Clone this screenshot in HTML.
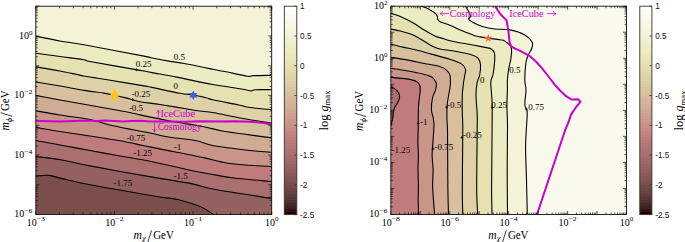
<!DOCTYPE html>
<html><head><meta charset="utf-8"><style>
html,body{margin:0;padding:0;background:#fff;width:685px;height:242px;overflow:hidden}
svg{display:block}
text{font-family:"Liberation Serif",serif;fill:#000}
.cb{font-family:"Liberation Sans",sans-serif;font-size:8.2px;fill:#111}
.tk{font-size:10px}
.sp{font-size:7px}
.cl{font-size:9px}
.mg text{fill:#cc00cc;font-size:9.65px}
</style></head><body>
<svg width="685" height="242" viewBox="0 0 685 242">
<defs>
<clipPath id="cl"><rect x="35.8" y="6.2" width="235.9" height="208.3"/></clipPath>
<clipPath id="cr"><rect x="390.8" y="6.2" width="235.7" height="208.3"/></clipPath>
<linearGradient id="cbg" x1="0" y1="0" x2="0" y2="1"><stop offset="0.00000" stop-color="#fefefc"/><stop offset="0.01429" stop-color="#fefefc"/><stop offset="0.01429" stop-color="#fdfdf8"/><stop offset="0.02857" stop-color="#fdfdf8"/><stop offset="0.02857" stop-color="#fcfcf5"/><stop offset="0.04286" stop-color="#fcfcf5"/><stop offset="0.04286" stop-color="#fafaf1"/><stop offset="0.05714" stop-color="#fafaf1"/><stop offset="0.05714" stop-color="#f9f9ed"/><stop offset="0.07143" stop-color="#f9f9ed"/><stop offset="0.07143" stop-color="#f8f8e9"/><stop offset="0.08571" stop-color="#f8f8e9"/><stop offset="0.08571" stop-color="#f7f7e5"/><stop offset="0.10000" stop-color="#f7f7e5"/><stop offset="0.10000" stop-color="#f5f5e0"/><stop offset="0.11429" stop-color="#f5f5e0"/><stop offset="0.11429" stop-color="#f4f4dd"/><stop offset="0.12857" stop-color="#f4f4dd"/><stop offset="0.12857" stop-color="#f3f3d8"/><stop offset="0.14286" stop-color="#f3f3d8"/><stop offset="0.14286" stop-color="#f1f1d4"/><stop offset="0.15714" stop-color="#f1f1d4"/><stop offset="0.15714" stop-color="#f0f0d0"/><stop offset="0.17143" stop-color="#f0f0d0"/><stop offset="0.17143" stop-color="#efefcb"/><stop offset="0.18571" stop-color="#efefcb"/><stop offset="0.18571" stop-color="#ededc6"/><stop offset="0.20000" stop-color="#ededc6"/><stop offset="0.20000" stop-color="#ececc2"/><stop offset="0.21429" stop-color="#ececc2"/><stop offset="0.21429" stop-color="#ebebbd"/><stop offset="0.22857" stop-color="#ebebbd"/><stop offset="0.22857" stop-color="#e9e9b8"/><stop offset="0.24286" stop-color="#e9e9b8"/><stop offset="0.24286" stop-color="#e8e8b4"/><stop offset="0.25714" stop-color="#e8e8b4"/><stop offset="0.25714" stop-color="#e7e5b2"/><stop offset="0.27143" stop-color="#e7e5b2"/><stop offset="0.27143" stop-color="#e5e1b0"/><stop offset="0.28571" stop-color="#e5e1b0"/><stop offset="0.28571" stop-color="#e4dfae"/><stop offset="0.30000" stop-color="#e4dfae"/><stop offset="0.30000" stop-color="#e3dbac"/><stop offset="0.31429" stop-color="#e3dbac"/><stop offset="0.31429" stop-color="#e1d8aa"/><stop offset="0.32857" stop-color="#e1d8aa"/><stop offset="0.32857" stop-color="#e0d5a9"/><stop offset="0.34286" stop-color="#e0d5a9"/><stop offset="0.34286" stop-color="#dfd1a7"/><stop offset="0.35714" stop-color="#dfd1a7"/><stop offset="0.35714" stop-color="#ddcda5"/><stop offset="0.37143" stop-color="#ddcda5"/><stop offset="0.37143" stop-color="#dccaa3"/><stop offset="0.38571" stop-color="#dccaa3"/><stop offset="0.38571" stop-color="#dac6a1"/><stop offset="0.40000" stop-color="#dac6a1"/><stop offset="0.40000" stop-color="#d9c29f"/><stop offset="0.41429" stop-color="#d9c29f"/><stop offset="0.41429" stop-color="#d8bf9e"/><stop offset="0.42857" stop-color="#d8bf9e"/><stop offset="0.42857" stop-color="#d6bb9b"/><stop offset="0.44286" stop-color="#d6bb9b"/><stop offset="0.44286" stop-color="#d4b799"/><stop offset="0.45714" stop-color="#d4b799"/><stop offset="0.45714" stop-color="#d3b497"/><stop offset="0.47143" stop-color="#d3b497"/><stop offset="0.47143" stop-color="#d2af95"/><stop offset="0.48571" stop-color="#d2af95"/><stop offset="0.48571" stop-color="#d0ac94"/><stop offset="0.50000" stop-color="#d0ac94"/><stop offset="0.50000" stop-color="#cfa791"/><stop offset="0.51429" stop-color="#cfa791"/><stop offset="0.51429" stop-color="#cda28f"/><stop offset="0.52857" stop-color="#cda28f"/><stop offset="0.52857" stop-color="#cc9f8d"/><stop offset="0.54286" stop-color="#cc9f8d"/><stop offset="0.54286" stop-color="#ca9a8b"/><stop offset="0.55714" stop-color="#ca9a8b"/><stop offset="0.55714" stop-color="#c99588"/><stop offset="0.57143" stop-color="#c99588"/><stop offset="0.57143" stop-color="#c79186"/><stop offset="0.58571" stop-color="#c79186"/><stop offset="0.58571" stop-color="#c68b84"/><stop offset="0.60000" stop-color="#c68b84"/><stop offset="0.60000" stop-color="#c48581"/><stop offset="0.61429" stop-color="#c48581"/><stop offset="0.61429" stop-color="#c2817f"/><stop offset="0.62857" stop-color="#c2817f"/><stop offset="0.62857" stop-color="#c07c7c"/><stop offset="0.64286" stop-color="#c07c7c"/><stop offset="0.64286" stop-color="#bb7a7a"/><stop offset="0.65714" stop-color="#bb7a7a"/><stop offset="0.65714" stop-color="#b87777"/><stop offset="0.67143" stop-color="#b87777"/><stop offset="0.67143" stop-color="#b47575"/><stop offset="0.68571" stop-color="#b47575"/><stop offset="0.68571" stop-color="#af7272"/><stop offset="0.70000" stop-color="#af7272"/><stop offset="0.70000" stop-color="#ac6f6f"/><stop offset="0.71429" stop-color="#ac6f6f"/><stop offset="0.71429" stop-color="#a76c6c"/><stop offset="0.72857" stop-color="#a76c6c"/><stop offset="0.72857" stop-color="#a36969"/><stop offset="0.74286" stop-color="#a36969"/><stop offset="0.74286" stop-color="#9f6767"/><stop offset="0.75714" stop-color="#9f6767"/><stop offset="0.75714" stop-color="#9a6363"/><stop offset="0.77143" stop-color="#9a6363"/><stop offset="0.77143" stop-color="#956060"/><stop offset="0.78571" stop-color="#956060"/><stop offset="0.78571" stop-color="#915d5d"/><stop offset="0.80000" stop-color="#915d5d"/><stop offset="0.80000" stop-color="#8b5959"/><stop offset="0.81429" stop-color="#8b5959"/><stop offset="0.81429" stop-color="#855555"/><stop offset="0.82857" stop-color="#855555"/><stop offset="0.82857" stop-color="#815252"/><stop offset="0.84286" stop-color="#815252"/><stop offset="0.84286" stop-color="#7b4e4e"/><stop offset="0.85714" stop-color="#7b4e4e"/><stop offset="0.85714" stop-color="#744a4a"/><stop offset="0.87143" stop-color="#744a4a"/><stop offset="0.87143" stop-color="#6f4646"/><stop offset="0.88571" stop-color="#6f4646"/><stop offset="0.88571" stop-color="#684141"/><stop offset="0.90000" stop-color="#684141"/><stop offset="0.90000" stop-color="#603c3c"/><stop offset="0.91429" stop-color="#603c3c"/><stop offset="0.91429" stop-color="#593737"/><stop offset="0.92857" stop-color="#593737"/><stop offset="0.92857" stop-color="#503131"/><stop offset="0.94286" stop-color="#503131"/><stop offset="0.94286" stop-color="#452929"/><stop offset="0.95714" stop-color="#452929"/><stop offset="0.95714" stop-color="#3c2222"/><stop offset="0.97143" stop-color="#3c2222"/><stop offset="0.97143" stop-color="#2d1313"/><stop offset="0.98571" stop-color="#2d1313"/><stop offset="0.98571" stop-color="#1e0000"/><stop offset="1.00000" stop-color="#1e0000"/></linearGradient>
</defs>
<g clip-path="url(#cl)">
<rect x="35.8" y="6.2" width="235.9" height="208.3" fill="#7b4e4e"/>
<path d="M35.80,176.10C37.93,175.98 44.20,174.98 48.60,175.40C53.00,175.82 55.30,177.03 62.20,178.60C69.10,180.17 74.70,181.90 90.00,184.80C105.30,187.70 139.20,193.52 154.00,196.00C168.80,198.48 171.37,198.05 178.80,199.70C186.23,201.35 194.23,204.35 198.60,205.90C202.97,207.45 202.52,207.57 205.00,209.00C207.48,210.43 212.08,213.58 213.50,214.50L271.70,214.50L271.70,6.20L35.80,6.20Z" fill="#956060"/>
<path d="M35.80,156.50C40.17,157.08 52.97,158.43 62.00,160.00C71.03,161.57 74.67,163.00 90.00,165.90C105.33,168.80 137.13,174.45 154.00,177.40C170.87,180.35 181.20,181.63 191.20,183.60C201.20,185.57 200.58,186.73 214.00,189.20C227.42,191.67 262.08,196.87 271.70,198.40L271.70,6.20L35.80,6.20Z" fill="#ac6f6f"/>
<path d="M35.80,140.50C39.83,141.25 50.97,143.33 60.00,145.00C69.03,146.67 80.00,148.67 90.00,150.50C100.00,152.33 110.18,154.25 120.00,156.00C129.82,157.75 137.95,158.80 148.90,161.00C159.85,163.20 174.23,166.80 185.70,169.20C197.17,171.60 209.68,173.93 217.70,175.40C225.72,176.87 224.80,176.98 233.80,178.00C242.80,179.02 265.38,180.92 271.70,181.50L271.70,6.20L35.80,6.20Z" fill="#c07c7c"/>
<path d="M35.80,127.40C39.83,128.08 50.97,130.07 60.00,131.50C69.03,132.93 80.00,134.45 90.00,136.00C100.00,137.55 111.38,139.27 120.00,140.80C128.62,142.33 136.70,144.18 141.70,145.20C146.70,146.22 144.17,145.72 150.00,146.90C155.83,148.08 167.78,150.52 176.70,152.30C185.62,154.08 195.18,155.82 203.50,157.60C211.82,159.38 218.85,161.72 226.60,163.00C234.35,164.28 242.48,164.72 250.00,165.30C257.52,165.88 268.08,166.30 271.70,166.50L271.70,6.20L35.80,6.20Z" fill="#c99588"/>
<path d="M35.80,110.80C39.83,111.50 50.97,113.55 60.00,115.00C69.03,116.45 81.70,117.83 90.00,119.50C98.30,121.17 102.38,123.25 109.80,125.00C117.22,126.75 127.80,128.67 134.50,130.00C141.20,131.33 144.08,131.80 150.00,133.00C155.92,134.20 162.28,135.92 170.00,137.20C177.72,138.48 189.23,139.32 196.30,140.70C203.37,142.08 203.48,143.87 212.40,145.50C221.32,147.13 239.92,149.37 249.80,150.50C259.68,151.63 268.05,152.00 271.70,152.30L271.70,6.20L35.80,6.20Z" fill="#d0ac94"/>
<path d="M35.80,95.50C39.83,96.25 51.97,98.53 60.00,100.00C68.03,101.47 72.57,102.27 84.00,104.30C95.43,106.33 119.27,110.43 128.60,112.20C137.93,113.97 133.10,113.43 140.00,114.90C146.90,116.37 159.60,119.07 170.00,121.00C180.40,122.93 193.90,124.88 202.40,126.50C210.90,128.12 214.45,129.48 221.00,130.70C227.55,131.92 233.25,132.60 241.70,133.80C250.15,135.00 266.70,137.22 271.70,137.90L271.70,6.20L35.80,6.20Z" fill="#d8bf9e"/>
<path d="M35.80,82.00C39.83,82.67 51.97,84.60 60.00,86.00C68.03,87.40 76.67,89.22 84.00,90.40C91.33,91.58 98.95,92.30 104.00,93.10C109.05,93.90 110.63,94.40 114.30,95.20C117.97,96.00 121.72,96.82 126.00,97.90C130.28,98.98 134.33,100.60 140.00,101.70C145.67,102.80 151.38,103.17 160.00,104.50C168.62,105.83 184.98,108.62 191.70,109.70C198.42,110.78 196.58,110.48 200.30,111.00C204.02,111.52 207.10,111.58 214.00,112.80C220.90,114.02 232.08,116.55 241.70,118.30C251.32,120.05 266.70,122.47 271.70,123.30L271.70,6.20L35.80,6.20Z" fill="#dfd1a7"/>
<path d="M35.80,66.90C39.83,67.58 51.97,69.48 60.00,71.00C68.03,72.52 75.87,74.50 84.00,76.00C92.13,77.50 98.80,78.35 108.80,80.00C118.80,81.65 136.80,84.67 144.00,85.90C151.20,87.13 146.00,86.17 152.00,87.40C158.00,88.63 173.07,92.03 180.00,93.30C186.93,94.57 189.27,94.25 193.60,95.00C197.93,95.75 202.60,96.97 206.00,97.80C209.40,98.63 208.53,98.80 214.00,100.00C219.47,101.20 232.83,103.75 238.80,105.00C244.77,106.25 244.32,106.72 249.80,107.50C255.28,108.28 268.05,109.33 271.70,109.70L271.70,6.20L35.80,6.20Z" fill="#e5e1b0"/>
<path d="M35.80,53.30C39.83,53.83 51.97,55.43 60.00,56.50C68.03,57.57 79.00,58.87 84.00,59.70C89.00,60.53 81.33,59.85 90.00,61.50C98.67,63.15 127.00,68.02 136.00,69.60C145.00,71.18 141.33,70.50 144.00,71.00C146.67,71.50 146.53,71.58 152.00,72.60C157.47,73.62 168.53,75.47 176.80,77.10C185.07,78.73 195.40,81.13 201.60,82.40C207.80,83.67 207.38,83.60 214.00,84.70C220.62,85.80 235.10,87.97 241.30,89.00C247.50,90.03 248.92,90.78 251.20,90.90C253.48,91.02 251.58,89.90 255.00,89.70C258.42,89.50 268.92,89.70 271.70,89.70L271.70,6.20L35.80,6.20Z" fill="#ececc2"/>
<path d="M35.80,36.20C39.83,37.00 51.97,39.57 60.00,41.00C68.03,42.43 70.00,42.28 84.00,44.80C98.00,47.32 132.67,53.90 144.00,56.10C155.33,58.30 147.87,57.17 152.00,58.00C156.13,58.83 163.43,60.18 168.80,61.10C174.17,62.02 178.33,62.43 184.20,63.50C190.07,64.57 199.03,66.50 204.00,67.50C208.97,68.50 210.53,68.83 214.00,69.50C217.47,70.17 219.22,70.38 224.80,71.50C230.38,72.62 242.72,75.52 247.50,76.20C252.28,76.88 249.47,75.75 253.50,75.60C257.53,75.45 268.67,75.35 271.70,75.30L271.70,6.20L35.80,6.20Z" fill="#f3f3d8"/>
<path d="M35.80,176.10C37.93,175.98 44.20,174.98 48.60,175.40C53.00,175.82 55.30,177.03 62.20,178.60C69.10,180.17 74.70,181.90 90.00,184.80C105.30,187.70 139.20,193.52 154.00,196.00C168.80,198.48 171.37,198.05 178.80,199.70C186.23,201.35 194.23,204.35 198.60,205.90C202.97,207.45 202.52,207.57 205.00,209.00C207.48,210.43 212.08,213.58 213.50,214.50" fill="none" stroke="#000" stroke-width="1.1" stroke-linejoin="round"/>
<path d="M35.80,156.50C40.17,157.08 52.97,158.43 62.00,160.00C71.03,161.57 74.67,163.00 90.00,165.90C105.33,168.80 137.13,174.45 154.00,177.40C170.87,180.35 181.20,181.63 191.20,183.60C201.20,185.57 200.58,186.73 214.00,189.20C227.42,191.67 262.08,196.87 271.70,198.40" fill="none" stroke="#000" stroke-width="1.1" stroke-linejoin="round"/>
<path d="M35.80,140.50C39.83,141.25 50.97,143.33 60.00,145.00C69.03,146.67 80.00,148.67 90.00,150.50C100.00,152.33 110.18,154.25 120.00,156.00C129.82,157.75 137.95,158.80 148.90,161.00C159.85,163.20 174.23,166.80 185.70,169.20C197.17,171.60 209.68,173.93 217.70,175.40C225.72,176.87 224.80,176.98 233.80,178.00C242.80,179.02 265.38,180.92 271.70,181.50" fill="none" stroke="#000" stroke-width="1.1" stroke-linejoin="round"/>
<path d="M35.80,127.40C39.83,128.08 50.97,130.07 60.00,131.50C69.03,132.93 80.00,134.45 90.00,136.00C100.00,137.55 111.38,139.27 120.00,140.80C128.62,142.33 136.70,144.18 141.70,145.20C146.70,146.22 144.17,145.72 150.00,146.90C155.83,148.08 167.78,150.52 176.70,152.30C185.62,154.08 195.18,155.82 203.50,157.60C211.82,159.38 218.85,161.72 226.60,163.00C234.35,164.28 242.48,164.72 250.00,165.30C257.52,165.88 268.08,166.30 271.70,166.50" fill="none" stroke="#000" stroke-width="1.1" stroke-linejoin="round"/>
<path d="M35.80,110.80C39.83,111.50 50.97,113.55 60.00,115.00C69.03,116.45 81.70,117.83 90.00,119.50C98.30,121.17 102.38,123.25 109.80,125.00C117.22,126.75 127.80,128.67 134.50,130.00C141.20,131.33 144.08,131.80 150.00,133.00C155.92,134.20 162.28,135.92 170.00,137.20C177.72,138.48 189.23,139.32 196.30,140.70C203.37,142.08 203.48,143.87 212.40,145.50C221.32,147.13 239.92,149.37 249.80,150.50C259.68,151.63 268.05,152.00 271.70,152.30" fill="none" stroke="#000" stroke-width="1.1" stroke-linejoin="round"/>
<path d="M35.80,95.50C39.83,96.25 51.97,98.53 60.00,100.00C68.03,101.47 72.57,102.27 84.00,104.30C95.43,106.33 119.27,110.43 128.60,112.20C137.93,113.97 133.10,113.43 140.00,114.90C146.90,116.37 159.60,119.07 170.00,121.00C180.40,122.93 193.90,124.88 202.40,126.50C210.90,128.12 214.45,129.48 221.00,130.70C227.55,131.92 233.25,132.60 241.70,133.80C250.15,135.00 266.70,137.22 271.70,137.90" fill="none" stroke="#000" stroke-width="1.1" stroke-linejoin="round"/>
<path d="M35.80,82.00C39.83,82.67 51.97,84.60 60.00,86.00C68.03,87.40 76.67,89.22 84.00,90.40C91.33,91.58 98.95,92.30 104.00,93.10C109.05,93.90 110.63,94.40 114.30,95.20C117.97,96.00 121.72,96.82 126.00,97.90C130.28,98.98 134.33,100.60 140.00,101.70C145.67,102.80 151.38,103.17 160.00,104.50C168.62,105.83 184.98,108.62 191.70,109.70C198.42,110.78 196.58,110.48 200.30,111.00C204.02,111.52 207.10,111.58 214.00,112.80C220.90,114.02 232.08,116.55 241.70,118.30C251.32,120.05 266.70,122.47 271.70,123.30" fill="none" stroke="#000" stroke-width="1.1" stroke-linejoin="round"/>
<path d="M35.80,66.90C39.83,67.58 51.97,69.48 60.00,71.00C68.03,72.52 75.87,74.50 84.00,76.00C92.13,77.50 98.80,78.35 108.80,80.00C118.80,81.65 136.80,84.67 144.00,85.90C151.20,87.13 146.00,86.17 152.00,87.40C158.00,88.63 173.07,92.03 180.00,93.30C186.93,94.57 189.27,94.25 193.60,95.00C197.93,95.75 202.60,96.97 206.00,97.80C209.40,98.63 208.53,98.80 214.00,100.00C219.47,101.20 232.83,103.75 238.80,105.00C244.77,106.25 244.32,106.72 249.80,107.50C255.28,108.28 268.05,109.33 271.70,109.70" fill="none" stroke="#000" stroke-width="1.1" stroke-linejoin="round"/>
<path d="M35.80,53.30C39.83,53.83 51.97,55.43 60.00,56.50C68.03,57.57 79.00,58.87 84.00,59.70C89.00,60.53 81.33,59.85 90.00,61.50C98.67,63.15 127.00,68.02 136.00,69.60C145.00,71.18 141.33,70.50 144.00,71.00C146.67,71.50 146.53,71.58 152.00,72.60C157.47,73.62 168.53,75.47 176.80,77.10C185.07,78.73 195.40,81.13 201.60,82.40C207.80,83.67 207.38,83.60 214.00,84.70C220.62,85.80 235.10,87.97 241.30,89.00C247.50,90.03 248.92,90.78 251.20,90.90C253.48,91.02 251.58,89.90 255.00,89.70C258.42,89.50 268.92,89.70 271.70,89.70" fill="none" stroke="#000" stroke-width="1.1" stroke-linejoin="round"/>
<path d="M35.80,36.20C39.83,37.00 51.97,39.57 60.00,41.00C68.03,42.43 70.00,42.28 84.00,44.80C98.00,47.32 132.67,53.90 144.00,56.10C155.33,58.30 147.87,57.17 152.00,58.00C156.13,58.83 163.43,60.18 168.80,61.10C174.17,62.02 178.33,62.43 184.20,63.50C190.07,64.57 199.03,66.50 204.00,67.50C208.97,68.50 210.53,68.83 214.00,69.50C217.47,70.17 219.22,70.38 224.80,71.50C230.38,72.62 242.72,75.52 247.50,76.20C252.28,76.88 249.47,75.75 253.50,75.60C257.53,75.45 268.67,75.35 271.70,75.30" fill="none" stroke="#000" stroke-width="1.1" stroke-linejoin="round"/>
<polyline points="35.8,120.8 48.0,121.2 60.7,121.4 74.0,121.1 87.5,120.6 96.0,120.9 105.3,120.5 114.0,121.0 123.1,121.4 132.0,121.0 141.0,120.8 150.0,121.4 165.0,121.5 185.6,121.7 200.0,121.3 221.3,121.4 235.0,121.2 249.8,121.7 262.0,122.8 271.7,124.4" fill="none" stroke="#cc00cc" stroke-width="2.0" stroke-linejoin="round"/>
</g>
<g clip-path="url(#cr)">
<rect x="390.8" y="6.2" width="235.7" height="208.3" fill="#c07c7c"/>
<path d="M390.80,87.00C391.45,87.28 393.43,87.80 394.70,88.70C395.97,89.60 397.58,90.95 398.40,92.40C399.22,93.85 399.80,95.53 399.60,97.40C399.40,99.27 398.02,101.95 397.20,103.60C396.38,105.25 395.33,105.85 394.70,107.30C394.07,108.75 393.70,110.65 393.40,112.30C393.10,113.95 393.22,115.35 392.90,117.20C392.58,119.05 391.85,121.93 391.50,123.40C391.15,124.87 390.92,125.57 390.80,126.00Z" fill="#ac6f6f"/>
<path d="M390.80,77.30C393.42,77.57 402.23,78.22 406.50,78.90C410.77,79.58 414.18,80.30 416.40,81.40C418.62,82.50 419.17,84.07 419.80,85.50C420.43,86.93 420.25,88.08 420.20,90.00C420.15,91.92 419.77,94.50 419.50,97.00C419.23,99.50 418.80,102.00 418.60,105.00C418.40,108.00 418.37,110.83 418.30,115.00C418.23,119.17 418.27,125.50 418.20,130.00C418.13,134.50 417.87,137.83 417.90,142.00C417.93,146.17 418.38,150.33 418.40,155.00C418.42,159.67 418.00,165.00 418.00,170.00C418.00,175.00 418.37,180.00 418.40,185.00C418.43,190.00 418.17,195.08 418.20,200.00C418.23,204.92 418.53,212.08 418.60,214.50L626.50,214.50L626.50,6.20L390.80,6.20Z" fill="#c99588"/>
<path d="M390.80,68.20C393.42,68.62 401.13,69.73 406.50,70.70C411.87,71.67 418.73,72.90 423.00,74.00C427.27,75.10 429.88,75.78 432.10,77.30C434.32,78.82 435.73,80.98 436.30,83.10C436.87,85.22 436.12,87.62 435.50,90.00C434.88,92.38 433.28,94.10 432.60,97.40C431.92,100.70 431.18,105.67 431.40,109.80C431.62,113.93 433.62,117.18 433.90,122.20C434.18,127.22 433.40,134.47 433.10,139.90C432.80,145.33 432.10,149.85 432.10,154.80C432.10,159.75 433.02,164.57 433.10,169.60C433.18,174.63 432.60,180.78 432.60,185.00C432.60,189.22 432.77,189.98 433.10,194.90C433.43,199.82 434.35,211.23 434.60,214.50L626.50,214.50L626.50,6.20L390.80,6.20Z" fill="#d0ac94"/>
<path d="M390.80,57.40C393.42,57.82 401.13,58.93 406.50,59.90C411.87,60.87 417.48,62.10 423.00,63.20C428.52,64.30 435.73,65.40 439.60,66.50C443.47,67.60 444.48,68.38 446.20,69.80C447.92,71.22 449.22,72.47 449.90,75.00C450.58,77.53 450.50,81.67 450.30,85.00C450.10,88.33 449.22,91.72 448.70,95.00C448.18,98.28 447.50,100.87 447.20,104.70C446.90,108.53 446.85,113.78 446.90,118.00C446.95,122.22 447.37,123.00 447.50,130.00C447.63,137.00 447.63,150.00 447.70,160.00C447.77,170.00 447.77,180.92 447.90,190.00C448.03,199.08 448.40,210.42 448.50,214.50L626.50,214.50L626.50,6.20L390.80,6.20Z" fill="#d8bf9e"/>
<path d="M390.80,44.10C392.82,44.60 398.63,46.12 402.90,47.10C407.17,48.08 411.67,48.83 416.40,50.00C421.13,51.17 425.72,52.55 431.30,54.10C436.88,55.65 444.87,57.67 449.90,59.30C454.93,60.93 458.88,62.17 461.50,63.90C464.12,65.63 465.05,67.85 465.60,69.70C466.15,71.55 465.13,72.88 464.80,75.00C464.47,77.12 464.02,79.10 463.60,82.40C463.18,85.70 462.52,89.83 462.30,94.80C462.08,99.77 462.22,106.33 462.30,112.20C462.38,118.07 462.80,117.03 462.80,130.00C462.80,142.97 462.30,175.92 462.30,190.00C462.30,204.08 462.72,210.42 462.80,214.50L626.50,214.50L626.50,6.20L390.80,6.20Z" fill="#dfd1a7"/>
<path d="M390.80,29.00C392.40,29.33 397.08,30.15 400.40,31.00C403.72,31.85 407.60,32.90 410.70,34.10C413.80,35.30 415.90,36.48 419.00,38.20C422.10,39.92 426.55,42.85 429.30,44.40C432.05,45.95 433.72,46.73 435.50,47.50C437.28,48.27 436.50,48.33 440.00,49.00C443.50,49.67 451.27,50.53 456.50,51.50C461.73,52.47 467.82,53.70 471.40,54.80C474.98,55.90 476.48,56.43 478.00,58.10C479.52,59.77 480.22,61.98 480.50,64.80C480.78,67.62 480.25,72.07 479.70,75.00C479.15,77.93 477.82,79.10 477.20,82.40C476.58,85.70 476.00,89.43 476.00,94.80C476.00,100.17 477.00,108.73 477.20,114.60C477.40,120.47 477.28,117.43 477.20,130.00C477.12,142.57 476.62,175.92 476.70,190.00C476.78,204.08 477.53,210.42 477.70,214.50L626.50,214.50L626.50,6.20L390.80,6.20Z" fill="#e5e1b0"/>
<path d="M390.80,13.20C392.40,13.75 396.73,14.92 400.40,16.50C404.07,18.08 408.83,20.45 412.80,22.70C416.77,24.95 420.42,27.75 424.20,30.00C427.98,32.25 432.37,34.78 435.50,36.20C438.63,37.62 440.93,37.82 443.00,38.50C445.07,39.18 445.40,39.63 447.90,40.30C450.40,40.97 455.18,41.97 458.00,42.50C460.82,43.03 460.92,42.82 464.80,43.50C468.68,44.18 477.50,45.87 481.30,46.60C485.10,47.33 485.95,47.50 487.60,47.90C489.25,48.30 490.05,48.12 491.20,49.00C492.35,49.88 493.95,50.85 494.50,53.20C495.05,55.55 494.77,59.47 494.50,63.10C494.23,66.73 493.52,71.78 492.90,75.00C492.28,78.22 490.93,77.87 490.80,82.40C490.67,86.93 491.88,94.27 492.10,102.20C492.32,110.13 492.18,115.37 492.10,130.00C492.02,144.63 491.60,175.92 491.60,190.00C491.60,204.08 492.02,210.42 492.10,214.50L626.50,214.50L626.50,6.20L390.80,6.20Z" fill="#ececc2"/>
<path d="M421.00,6.20C421.83,6.47 424.33,7.08 426.00,7.80C427.67,8.52 429.42,9.55 431.00,10.50C432.58,11.45 434.47,12.58 435.50,13.50C436.53,14.42 436.82,14.98 437.20,16.00C437.58,17.02 437.33,18.65 437.80,19.60C438.27,20.55 438.80,21.05 440.00,21.70C441.20,22.35 443.17,22.82 445.00,23.50C446.83,24.18 448.83,24.90 451.00,25.80C453.17,26.70 455.20,27.70 458.00,28.90C460.80,30.10 464.80,31.80 467.80,33.00C470.80,34.20 473.93,35.45 476.00,36.10C478.07,36.75 478.20,36.55 480.20,36.90C482.20,37.25 484.70,37.72 488.00,38.20C491.30,38.68 497.18,39.32 500.00,39.80C502.82,40.28 503.05,39.85 504.90,41.10C506.75,42.35 510.07,44.62 511.10,47.30C512.13,49.98 511.52,53.48 511.10,57.20C510.68,60.92 509.22,65.80 508.60,69.60C507.98,73.40 507.60,76.62 507.40,80.00C507.20,83.38 507.48,85.77 507.40,89.90C507.32,94.03 506.90,99.85 506.90,104.80C506.90,109.75 507.30,115.40 507.40,119.60C507.50,123.80 507.53,121.60 507.50,130.00C507.47,138.40 507.20,155.92 507.20,170.00C507.20,184.08 507.45,207.08 507.50,214.50L626.50,214.50L626.50,6.20Z" fill="#f3f3d8"/>
<path d="M465.50,6.20C465.82,6.70 466.77,8.08 467.40,9.20C468.03,10.32 468.78,11.67 469.30,12.90C469.82,14.13 470.62,15.57 470.50,16.60C470.38,17.63 468.08,18.07 468.60,19.10C469.12,20.13 471.32,21.57 473.60,22.80C475.88,24.03 478.73,25.47 482.30,26.50C485.87,27.53 490.40,28.43 495.00,29.00C499.60,29.57 504.93,28.92 509.90,29.90C514.87,30.88 521.08,32.83 524.80,34.90C528.52,36.97 531.05,40.03 532.20,42.30C533.35,44.57 532.32,46.43 531.70,48.50C531.08,50.57 529.45,52.42 528.50,54.70C527.55,56.98 526.62,57.98 526.00,62.20C525.38,66.42 524.80,75.38 524.80,80.00C524.80,84.62 526.00,85.77 526.00,89.90C526.00,94.03 524.60,101.08 524.80,104.80C525.00,108.52 527.00,107.17 527.20,112.20C527.40,117.23 526.27,128.70 526.00,135.00C525.73,141.30 525.52,142.50 525.60,150.00C525.68,157.50 526.22,169.25 526.50,180.00C526.78,190.75 527.17,208.75 527.30,214.50L626.50,214.50L626.50,6.20Z" fill="#f9f9ed"/>
<path d="M390.80,87.00C391.45,87.28 393.43,87.80 394.70,88.70C395.97,89.60 397.58,90.95 398.40,92.40C399.22,93.85 399.80,95.53 399.60,97.40C399.40,99.27 398.02,101.95 397.20,103.60C396.38,105.25 395.33,105.85 394.70,107.30C394.07,108.75 393.70,110.65 393.40,112.30C393.10,113.95 393.22,115.35 392.90,117.20C392.58,119.05 391.85,121.93 391.50,123.40C391.15,124.87 390.92,125.57 390.80,126.00" fill="none" stroke="#000" stroke-width="1.1" stroke-linejoin="round"/>
<path d="M390.80,77.30C393.42,77.57 402.23,78.22 406.50,78.90C410.77,79.58 414.18,80.30 416.40,81.40C418.62,82.50 419.17,84.07 419.80,85.50C420.43,86.93 420.25,88.08 420.20,90.00C420.15,91.92 419.77,94.50 419.50,97.00C419.23,99.50 418.80,102.00 418.60,105.00C418.40,108.00 418.37,110.83 418.30,115.00C418.23,119.17 418.27,125.50 418.20,130.00C418.13,134.50 417.87,137.83 417.90,142.00C417.93,146.17 418.38,150.33 418.40,155.00C418.42,159.67 418.00,165.00 418.00,170.00C418.00,175.00 418.37,180.00 418.40,185.00C418.43,190.00 418.17,195.08 418.20,200.00C418.23,204.92 418.53,212.08 418.60,214.50" fill="none" stroke="#000" stroke-width="1.1" stroke-linejoin="round"/>
<path d="M390.80,68.20C393.42,68.62 401.13,69.73 406.50,70.70C411.87,71.67 418.73,72.90 423.00,74.00C427.27,75.10 429.88,75.78 432.10,77.30C434.32,78.82 435.73,80.98 436.30,83.10C436.87,85.22 436.12,87.62 435.50,90.00C434.88,92.38 433.28,94.10 432.60,97.40C431.92,100.70 431.18,105.67 431.40,109.80C431.62,113.93 433.62,117.18 433.90,122.20C434.18,127.22 433.40,134.47 433.10,139.90C432.80,145.33 432.10,149.85 432.10,154.80C432.10,159.75 433.02,164.57 433.10,169.60C433.18,174.63 432.60,180.78 432.60,185.00C432.60,189.22 432.77,189.98 433.10,194.90C433.43,199.82 434.35,211.23 434.60,214.50" fill="none" stroke="#000" stroke-width="1.1" stroke-linejoin="round"/>
<path d="M390.80,57.40C393.42,57.82 401.13,58.93 406.50,59.90C411.87,60.87 417.48,62.10 423.00,63.20C428.52,64.30 435.73,65.40 439.60,66.50C443.47,67.60 444.48,68.38 446.20,69.80C447.92,71.22 449.22,72.47 449.90,75.00C450.58,77.53 450.50,81.67 450.30,85.00C450.10,88.33 449.22,91.72 448.70,95.00C448.18,98.28 447.50,100.87 447.20,104.70C446.90,108.53 446.85,113.78 446.90,118.00C446.95,122.22 447.37,123.00 447.50,130.00C447.63,137.00 447.63,150.00 447.70,160.00C447.77,170.00 447.77,180.92 447.90,190.00C448.03,199.08 448.40,210.42 448.50,214.50" fill="none" stroke="#000" stroke-width="1.1" stroke-linejoin="round"/>
<path d="M390.80,44.10C392.82,44.60 398.63,46.12 402.90,47.10C407.17,48.08 411.67,48.83 416.40,50.00C421.13,51.17 425.72,52.55 431.30,54.10C436.88,55.65 444.87,57.67 449.90,59.30C454.93,60.93 458.88,62.17 461.50,63.90C464.12,65.63 465.05,67.85 465.60,69.70C466.15,71.55 465.13,72.88 464.80,75.00C464.47,77.12 464.02,79.10 463.60,82.40C463.18,85.70 462.52,89.83 462.30,94.80C462.08,99.77 462.22,106.33 462.30,112.20C462.38,118.07 462.80,117.03 462.80,130.00C462.80,142.97 462.30,175.92 462.30,190.00C462.30,204.08 462.72,210.42 462.80,214.50" fill="none" stroke="#000" stroke-width="1.1" stroke-linejoin="round"/>
<path d="M390.80,29.00C392.40,29.33 397.08,30.15 400.40,31.00C403.72,31.85 407.60,32.90 410.70,34.10C413.80,35.30 415.90,36.48 419.00,38.20C422.10,39.92 426.55,42.85 429.30,44.40C432.05,45.95 433.72,46.73 435.50,47.50C437.28,48.27 436.50,48.33 440.00,49.00C443.50,49.67 451.27,50.53 456.50,51.50C461.73,52.47 467.82,53.70 471.40,54.80C474.98,55.90 476.48,56.43 478.00,58.10C479.52,59.77 480.22,61.98 480.50,64.80C480.78,67.62 480.25,72.07 479.70,75.00C479.15,77.93 477.82,79.10 477.20,82.40C476.58,85.70 476.00,89.43 476.00,94.80C476.00,100.17 477.00,108.73 477.20,114.60C477.40,120.47 477.28,117.43 477.20,130.00C477.12,142.57 476.62,175.92 476.70,190.00C476.78,204.08 477.53,210.42 477.70,214.50" fill="none" stroke="#000" stroke-width="1.1" stroke-linejoin="round"/>
<path d="M390.80,13.20C392.40,13.75 396.73,14.92 400.40,16.50C404.07,18.08 408.83,20.45 412.80,22.70C416.77,24.95 420.42,27.75 424.20,30.00C427.98,32.25 432.37,34.78 435.50,36.20C438.63,37.62 440.93,37.82 443.00,38.50C445.07,39.18 445.40,39.63 447.90,40.30C450.40,40.97 455.18,41.97 458.00,42.50C460.82,43.03 460.92,42.82 464.80,43.50C468.68,44.18 477.50,45.87 481.30,46.60C485.10,47.33 485.95,47.50 487.60,47.90C489.25,48.30 490.05,48.12 491.20,49.00C492.35,49.88 493.95,50.85 494.50,53.20C495.05,55.55 494.77,59.47 494.50,63.10C494.23,66.73 493.52,71.78 492.90,75.00C492.28,78.22 490.93,77.87 490.80,82.40C490.67,86.93 491.88,94.27 492.10,102.20C492.32,110.13 492.18,115.37 492.10,130.00C492.02,144.63 491.60,175.92 491.60,190.00C491.60,204.08 492.02,210.42 492.10,214.50" fill="none" stroke="#000" stroke-width="1.1" stroke-linejoin="round"/>
<path d="M421.00,6.20C421.83,6.47 424.33,7.08 426.00,7.80C427.67,8.52 429.42,9.55 431.00,10.50C432.58,11.45 434.47,12.58 435.50,13.50C436.53,14.42 436.82,14.98 437.20,16.00C437.58,17.02 437.33,18.65 437.80,19.60C438.27,20.55 438.80,21.05 440.00,21.70C441.20,22.35 443.17,22.82 445.00,23.50C446.83,24.18 448.83,24.90 451.00,25.80C453.17,26.70 455.20,27.70 458.00,28.90C460.80,30.10 464.80,31.80 467.80,33.00C470.80,34.20 473.93,35.45 476.00,36.10C478.07,36.75 478.20,36.55 480.20,36.90C482.20,37.25 484.70,37.72 488.00,38.20C491.30,38.68 497.18,39.32 500.00,39.80C502.82,40.28 503.05,39.85 504.90,41.10C506.75,42.35 510.07,44.62 511.10,47.30C512.13,49.98 511.52,53.48 511.10,57.20C510.68,60.92 509.22,65.80 508.60,69.60C507.98,73.40 507.60,76.62 507.40,80.00C507.20,83.38 507.48,85.77 507.40,89.90C507.32,94.03 506.90,99.85 506.90,104.80C506.90,109.75 507.30,115.40 507.40,119.60C507.50,123.80 507.53,121.60 507.50,130.00C507.47,138.40 507.20,155.92 507.20,170.00C507.20,184.08 507.45,207.08 507.50,214.50" fill="none" stroke="#000" stroke-width="1.1" stroke-linejoin="round"/>
<path d="M465.50,6.20C465.82,6.70 466.77,8.08 467.40,9.20C468.03,10.32 468.78,11.67 469.30,12.90C469.82,14.13 470.62,15.57 470.50,16.60C470.38,17.63 468.08,18.07 468.60,19.10C469.12,20.13 471.32,21.57 473.60,22.80C475.88,24.03 478.73,25.47 482.30,26.50C485.87,27.53 490.40,28.43 495.00,29.00C499.60,29.57 504.93,28.92 509.90,29.90C514.87,30.88 521.08,32.83 524.80,34.90C528.52,36.97 531.05,40.03 532.20,42.30C533.35,44.57 532.32,46.43 531.70,48.50C531.08,50.57 529.45,52.42 528.50,54.70C527.55,56.98 526.62,57.98 526.00,62.20C525.38,66.42 524.80,75.38 524.80,80.00C524.80,84.62 526.00,85.77 526.00,89.90C526.00,94.03 524.60,101.08 524.80,104.80C525.00,108.52 527.00,107.17 527.20,112.20C527.40,117.23 526.27,128.70 526.00,135.00C525.73,141.30 525.52,142.50 525.60,150.00C525.68,157.50 526.22,169.25 526.50,180.00C526.78,190.75 527.17,208.75 527.30,214.50" fill="none" stroke="#000" stroke-width="1.1" stroke-linejoin="round"/>
<polyline points="495.0,6.2 500.5,14.3 506.6,20.4 508.6,32.4 509.6,42.5 511.2,46.3 514.5,48.3 519.8,50.6 529.9,56.2 536.0,61.5 542.3,68.6 548.5,76.5 554.7,84.7 560.0,90.5 565.0,95.3 569.6,98.4 572.0,99.6 578.3,99.3 580.5,101.8 576.0,107.2 571.0,114.6 568.5,122.1 565.3,129.8 537.0,214.5" fill="none" stroke="#cc00cc" stroke-width="2.0" stroke-linejoin="round"/>
</g>
<polygon points="114.4,89.2 118.9,95.5 114.4,101.8 109.9,95.5" fill="#ffc41a"/>
<polygon points="193.20,90.70 194.50,93.05 197.18,93.00 195.80,95.30 197.18,97.60 194.50,97.55 193.20,99.90 191.90,97.55 189.22,97.60 190.60,95.30 189.22,93.00 191.90,93.05" fill="#3b63e0"/>
<polygon points="488.30,33.80 489.36,36.74 492.48,36.84 490.01,38.76 490.89,41.76 488.30,40.00 485.71,41.76 486.59,38.76 484.12,36.84 487.24,36.74" fill="#fa6a30"/>
<rect x="35.8" y="6.2" width="235.9" height="208.3" fill="none" stroke="#111" stroke-width="0.9"/>
<path d="M35.80,214.50v-3.50M35.80,6.20v3.50M59.47,214.50v-2.00M59.47,6.20v2.00M73.32,214.50v-2.00M73.32,6.20v2.00M83.14,214.50v-2.00M83.14,6.20v2.00M90.76,214.50v-2.00M90.76,6.20v2.00M96.99,214.50v-2.00M96.99,6.20v2.00M102.25,214.50v-2.00M102.25,6.20v2.00M106.81,214.50v-2.00M106.81,6.20v2.00M110.84,214.50v-2.00M110.84,6.20v2.00M114.43,214.50v-3.50M114.43,6.20v3.50M138.10,214.50v-2.00M138.10,6.20v2.00M151.95,214.50v-2.00M151.95,6.20v2.00M161.78,214.50v-2.00M161.78,6.20v2.00M169.40,214.50v-2.00M169.40,6.20v2.00M175.62,214.50v-2.00M175.62,6.20v2.00M180.89,214.50v-2.00M180.89,6.20v2.00M185.45,214.50v-2.00M185.45,6.20v2.00M189.47,214.50v-2.00M189.47,6.20v2.00M193.07,214.50v-3.50M193.07,6.20v3.50M216.74,214.50v-2.00M216.74,6.20v2.00M230.58,214.50v-2.00M230.58,6.20v2.00M240.41,214.50v-2.00M240.41,6.20v2.00M248.03,214.50v-2.00M248.03,6.20v2.00M254.26,214.50v-2.00M254.26,6.20v2.00M259.52,214.50v-2.00M259.52,6.20v2.00M264.08,214.50v-2.00M264.08,6.20v2.00M268.10,214.50v-2.00M268.10,6.20v2.00M271.70,214.50v-3.50M271.70,6.20v3.50M35.80,214.50h3.50M271.70,214.50h-3.50M35.80,205.54h2.00M271.70,205.54h-2.00M35.80,200.30h2.00M271.70,200.30h-2.00M35.80,196.58h2.00M271.70,196.58h-2.00M35.80,193.70h2.00M271.70,193.70h-2.00M35.80,191.34h2.00M271.70,191.34h-2.00M35.80,189.35h2.00M271.70,189.35h-2.00M35.80,187.63h2.00M271.70,187.63h-2.00M35.80,186.10h2.00M271.70,186.10h-2.00M35.80,184.74h3.50M271.70,184.74h-3.50M35.80,175.79h2.00M271.70,175.79h-2.00M35.80,170.55h2.00M271.70,170.55h-2.00M35.80,166.83h2.00M271.70,166.83h-2.00M35.80,163.94h2.00M271.70,163.94h-2.00M35.80,161.59h2.00M271.70,161.59h-2.00M35.80,159.60h2.00M271.70,159.60h-2.00M35.80,157.87h2.00M271.70,157.87h-2.00M35.80,156.35h2.00M271.70,156.35h-2.00M35.80,154.99h3.50M271.70,154.99h-3.50M35.80,146.03h2.00M271.70,146.03h-2.00M35.80,140.79h2.00M271.70,140.79h-2.00M35.80,137.07h2.00M271.70,137.07h-2.00M35.80,134.19h2.00M271.70,134.19h-2.00M35.80,131.83h2.00M271.70,131.83h-2.00M35.80,129.84h2.00M271.70,129.84h-2.00M35.80,128.11h2.00M271.70,128.11h-2.00M35.80,126.59h2.00M271.70,126.59h-2.00M35.80,125.23h3.50M271.70,125.23h-3.50M35.80,116.27h2.00M271.70,116.27h-2.00M35.80,111.03h2.00M271.70,111.03h-2.00M35.80,107.31h2.00M271.70,107.31h-2.00M35.80,104.43h2.00M271.70,104.43h-2.00M35.80,102.07h2.00M271.70,102.07h-2.00M35.80,100.08h2.00M271.70,100.08h-2.00M35.80,98.36h2.00M271.70,98.36h-2.00M35.80,96.83h2.00M271.70,96.83h-2.00M35.80,95.47h3.50M271.70,95.47h-3.50M35.80,86.51h2.00M271.70,86.51h-2.00M35.80,81.27h2.00M271.70,81.27h-2.00M35.80,77.56h2.00M271.70,77.56h-2.00M35.80,74.67h2.00M271.70,74.67h-2.00M35.80,72.32h2.00M271.70,72.32h-2.00M35.80,70.32h2.00M271.70,70.32h-2.00M35.80,68.60h2.00M271.70,68.60h-2.00M35.80,67.08h2.00M271.70,67.08h-2.00M35.80,65.71h3.50M271.70,65.71h-3.50M35.80,56.76h2.00M271.70,56.76h-2.00M35.80,51.52h2.00M271.70,51.52h-2.00M35.80,47.80h2.00M271.70,47.80h-2.00M35.80,44.91h2.00M271.70,44.91h-2.00M35.80,42.56h2.00M271.70,42.56h-2.00M35.80,40.57h2.00M271.70,40.57h-2.00M35.80,38.84h2.00M271.70,38.84h-2.00M35.80,37.32h2.00M271.70,37.32h-2.00M35.80,35.96h3.50M271.70,35.96h-3.50M35.80,27.00h2.00M271.70,27.00h-2.00M35.80,21.76h2.00M271.70,21.76h-2.00M35.80,18.04h2.00M271.70,18.04h-2.00M35.80,15.16h2.00M271.70,15.16h-2.00M35.80,12.80h2.00M271.70,12.80h-2.00M35.80,10.81h2.00M271.70,10.81h-2.00M35.80,9.08h2.00M271.70,9.08h-2.00M35.80,7.56h2.00M271.70,7.56h-2.00M35.80,6.20h3.50M271.70,6.20h-3.50" stroke="#111" stroke-width="0.7" fill="none"/>
<text class="tk" x="35.8" y="225.6" text-anchor="middle">10<tspan class="sp" dy="-4.2" textLength="8.3" lengthAdjust="spacingAndGlyphs">−3</tspan></text>
<text class="tk" x="114.4" y="225.6" text-anchor="middle">10<tspan class="sp" dy="-4.2" textLength="8.3" lengthAdjust="spacingAndGlyphs">−2</tspan></text>
<text class="tk" x="193.1" y="225.6" text-anchor="middle">10<tspan class="sp" dy="-4.2" textLength="8.3" lengthAdjust="spacingAndGlyphs">−1</tspan></text>
<text class="tk" x="271.7" y="225.6" text-anchor="middle">10<tspan class="sp" dy="-4.2">0</tspan></text>
<text class="tk" x="32.5" y="217.2" text-anchor="end">10<tspan class="sp" dy="-4.2" textLength="8.3" lengthAdjust="spacingAndGlyphs">−6</tspan></text>
<text class="tk" x="32.5" y="157.7" text-anchor="end">10<tspan class="sp" dy="-4.2" textLength="8.3" lengthAdjust="spacingAndGlyphs">−4</tspan></text>
<text class="tk" x="32.5" y="98.2" text-anchor="end">10<tspan class="sp" dy="-4.2" textLength="8.3" lengthAdjust="spacingAndGlyphs">−2</tspan></text>
<text class="tk" x="32.5" y="38.7" text-anchor="end">10<tspan class="sp" dy="-4.2">0</tspan></text>
<text class="tk" x="390.8" y="225.6" text-anchor="middle">10<tspan class="sp" dy="-4.2" textLength="8.3" lengthAdjust="spacingAndGlyphs">−8</tspan></text>
<text class="tk" x="449.7" y="225.6" text-anchor="middle">10<tspan class="sp" dy="-4.2" textLength="8.3" lengthAdjust="spacingAndGlyphs">−6</tspan></text>
<text class="tk" x="508.6" y="225.6" text-anchor="middle">10<tspan class="sp" dy="-4.2" textLength="8.3" lengthAdjust="spacingAndGlyphs">−4</tspan></text>
<text class="tk" x="567.6" y="225.6" text-anchor="middle">10<tspan class="sp" dy="-4.2" textLength="8.3" lengthAdjust="spacingAndGlyphs">−2</tspan></text>
<text class="tk" x="626.5" y="225.6" text-anchor="middle">10<tspan class="sp" dy="-4.2">0</tspan></text>
<text class="tk" x="387.5" y="217.2" text-anchor="end">10<tspan class="sp" dy="-4.2" textLength="8.3" lengthAdjust="spacingAndGlyphs">−6</tspan></text>
<text class="tk" x="387.5" y="165.1" text-anchor="end">10<tspan class="sp" dy="-4.2" textLength="8.3" lengthAdjust="spacingAndGlyphs">−4</tspan></text>
<text class="tk" x="387.5" y="113.0" text-anchor="end">10<tspan class="sp" dy="-4.2" textLength="8.3" lengthAdjust="spacingAndGlyphs">−2</tspan></text>
<text class="tk" x="387.5" y="61.0" text-anchor="end">10<tspan class="sp" dy="-4.2">0</tspan></text>
<text class="tk" x="387.5" y="8.9" text-anchor="end">10<tspan class="sp" dy="-4.2">2</tspan></text>
<rect x="390.8" y="6.2" width="235.7" height="208.3" fill="none" stroke="#111" stroke-width="0.9"/>
<path d="M390.80,214.50v-3.50M390.80,6.20v3.50M399.67,214.50v-2.00M399.67,6.20v2.00M404.86,214.50v-2.00M404.86,6.20v2.00M408.54,214.50v-2.00M408.54,6.20v2.00M411.39,214.50v-2.00M411.39,6.20v2.00M413.73,214.50v-2.00M413.73,6.20v2.00M415.70,214.50v-2.00M415.70,6.20v2.00M417.41,214.50v-2.00M417.41,6.20v2.00M418.91,214.50v-2.00M418.91,6.20v2.00M420.26,214.50v-3.50M420.26,6.20v3.50M429.13,214.50v-2.00M429.13,6.20v2.00M434.32,214.50v-2.00M434.32,6.20v2.00M438.00,214.50v-2.00M438.00,6.20v2.00M440.86,214.50v-2.00M440.86,6.20v2.00M443.19,214.50v-2.00M443.19,6.20v2.00M445.16,214.50v-2.00M445.16,6.20v2.00M446.87,214.50v-2.00M446.87,6.20v2.00M448.38,214.50v-2.00M448.38,6.20v2.00M449.73,214.50v-3.50M449.73,6.20v3.50M458.59,214.50v-2.00M458.59,6.20v2.00M463.78,214.50v-2.00M463.78,6.20v2.00M467.46,214.50v-2.00M467.46,6.20v2.00M470.32,214.50v-2.00M470.32,6.20v2.00M472.65,214.50v-2.00M472.65,6.20v2.00M474.62,214.50v-2.00M474.62,6.20v2.00M476.33,214.50v-2.00M476.33,6.20v2.00M477.84,214.50v-2.00M477.84,6.20v2.00M479.19,214.50v-3.50M479.19,6.20v3.50M488.06,214.50v-2.00M488.06,6.20v2.00M493.24,214.50v-2.00M493.24,6.20v2.00M496.93,214.50v-2.00M496.93,6.20v2.00M499.78,214.50v-2.00M499.78,6.20v2.00M502.11,214.50v-2.00M502.11,6.20v2.00M504.09,214.50v-2.00M504.09,6.20v2.00M505.79,214.50v-2.00M505.79,6.20v2.00M507.30,214.50v-2.00M507.30,6.20v2.00M508.65,214.50v-3.50M508.65,6.20v3.50M517.52,214.50v-2.00M517.52,6.20v2.00M522.71,214.50v-2.00M522.71,6.20v2.00M526.39,214.50v-2.00M526.39,6.20v2.00M529.24,214.50v-2.00M529.24,6.20v2.00M531.58,214.50v-2.00M531.58,6.20v2.00M533.55,214.50v-2.00M533.55,6.20v2.00M535.26,214.50v-2.00M535.26,6.20v2.00M536.76,214.50v-2.00M536.76,6.20v2.00M538.11,214.50v-3.50M538.11,6.20v3.50M546.98,214.50v-2.00M546.98,6.20v2.00M552.17,214.50v-2.00M552.17,6.20v2.00M555.85,214.50v-2.00M555.85,6.20v2.00M558.71,214.50v-2.00M558.71,6.20v2.00M561.04,214.50v-2.00M561.04,6.20v2.00M563.01,214.50v-2.00M563.01,6.20v2.00M564.72,214.50v-2.00M564.72,6.20v2.00M566.23,214.50v-2.00M566.23,6.20v2.00M567.58,214.50v-3.50M567.58,6.20v3.50M576.44,214.50v-2.00M576.44,6.20v2.00M581.63,214.50v-2.00M581.63,6.20v2.00M585.31,214.50v-2.00M585.31,6.20v2.00M588.17,214.50v-2.00M588.17,6.20v2.00M590.50,214.50v-2.00M590.50,6.20v2.00M592.47,214.50v-2.00M592.47,6.20v2.00M594.18,214.50v-2.00M594.18,6.20v2.00M595.69,214.50v-2.00M595.69,6.20v2.00M597.04,214.50v-3.50M597.04,6.20v3.50M605.91,214.50v-2.00M605.91,6.20v2.00M611.09,214.50v-2.00M611.09,6.20v2.00M614.78,214.50v-2.00M614.78,6.20v2.00M617.63,214.50v-2.00M617.63,6.20v2.00M619.96,214.50v-2.00M619.96,6.20v2.00M621.94,214.50v-2.00M621.94,6.20v2.00M623.64,214.50v-2.00M623.64,6.20v2.00M625.15,214.50v-2.00M625.15,6.20v2.00M626.50,214.50v-3.50M626.50,6.20v3.50M390.80,214.50h3.50M626.50,214.50h-3.50M390.80,206.66h2.00M626.50,206.66h-2.00M390.80,202.08h2.00M626.50,202.08h-2.00M390.80,198.82h2.00M626.50,198.82h-2.00M390.80,196.30h2.00M626.50,196.30h-2.00M390.80,194.24h2.00M626.50,194.24h-2.00M390.80,192.50h2.00M626.50,192.50h-2.00M390.80,190.99h2.00M626.50,190.99h-2.00M390.80,189.65h2.00M626.50,189.65h-2.00M390.80,188.46h3.50M626.50,188.46h-3.50M390.80,180.62h2.00M626.50,180.62h-2.00M390.80,176.04h2.00M626.50,176.04h-2.00M390.80,172.79h2.00M626.50,172.79h-2.00M390.80,170.26h2.00M626.50,170.26h-2.00M390.80,168.20h2.00M626.50,168.20h-2.00M390.80,166.46h2.00M626.50,166.46h-2.00M390.80,164.95h2.00M626.50,164.95h-2.00M390.80,163.62h2.00M626.50,163.62h-2.00M390.80,162.43h3.50M626.50,162.43h-3.50M390.80,154.59h2.00M626.50,154.59h-2.00M390.80,150.00h2.00M626.50,150.00h-2.00M390.80,146.75h2.00M626.50,146.75h-2.00M390.80,144.23h2.00M626.50,144.23h-2.00M390.80,142.16h2.00M626.50,142.16h-2.00M390.80,140.42h2.00M626.50,140.42h-2.00M390.80,138.91h2.00M626.50,138.91h-2.00M390.80,137.58h2.00M626.50,137.58h-2.00M390.80,136.39h3.50M626.50,136.39h-3.50M390.80,128.55h2.00M626.50,128.55h-2.00M390.80,123.96h2.00M626.50,123.96h-2.00M390.80,120.71h2.00M626.50,120.71h-2.00M390.80,118.19h2.00M626.50,118.19h-2.00M390.80,116.13h2.00M626.50,116.13h-2.00M390.80,114.38h2.00M626.50,114.38h-2.00M390.80,112.87h2.00M626.50,112.87h-2.00M390.80,111.54h2.00M626.50,111.54h-2.00M390.80,110.35h3.50M626.50,110.35h-3.50M390.80,102.51h2.00M626.50,102.51h-2.00M390.80,97.93h2.00M626.50,97.93h-2.00M390.80,94.67h2.00M626.50,94.67h-2.00M390.80,92.15h2.00M626.50,92.15h-2.00M390.80,90.09h2.00M626.50,90.09h-2.00M390.80,88.35h2.00M626.50,88.35h-2.00M390.80,86.84h2.00M626.50,86.84h-2.00M390.80,85.50h2.00M626.50,85.50h-2.00M390.80,84.31h3.50M626.50,84.31h-3.50M390.80,76.47h2.00M626.50,76.47h-2.00M390.80,71.89h2.00M626.50,71.89h-2.00M390.80,68.64h2.00M626.50,68.64h-2.00M390.80,66.11h2.00M626.50,66.11h-2.00M390.80,64.05h2.00M626.50,64.05h-2.00M390.80,62.31h2.00M626.50,62.31h-2.00M390.80,60.80h2.00M626.50,60.80h-2.00M390.80,59.47h2.00M626.50,59.47h-2.00M390.80,58.27h3.50M626.50,58.27h-3.50M390.80,50.44h2.00M626.50,50.44h-2.00M390.80,45.85h2.00M626.50,45.85h-2.00M390.80,42.60h2.00M626.50,42.60h-2.00M390.80,40.08h2.00M626.50,40.08h-2.00M390.80,38.01h2.00M626.50,38.01h-2.00M390.80,36.27h2.00M626.50,36.27h-2.00M390.80,34.76h2.00M626.50,34.76h-2.00M390.80,33.43h2.00M626.50,33.43h-2.00M390.80,32.24h3.50M626.50,32.24h-3.50M390.80,24.40h2.00M626.50,24.40h-2.00M390.80,19.81h2.00M626.50,19.81h-2.00M390.80,16.56h2.00M626.50,16.56h-2.00M390.80,14.04h2.00M626.50,14.04h-2.00M390.80,11.98h2.00M626.50,11.98h-2.00M390.80,10.23h2.00M626.50,10.23h-2.00M390.80,8.72h2.00M626.50,8.72h-2.00M390.80,7.39h2.00M626.50,7.39h-2.00M390.80,6.20h3.50M626.50,6.20h-3.50" stroke="#111" stroke-width="0.7" fill="none"/>
<rect x="284.3" y="6.2" width="12.5" height="208.4" fill="url(#cbg)" stroke="#333" stroke-width="0.9"/>
<text x="300.1" y="9.3" class="cb">1</text>
<text x="300.1" y="39.1" class="cb">0.5</text>
<text x="300.1" y="68.8" class="cb">0</text>
<text x="300.1" y="98.6" class="cb">-0.5</text>
<text x="300.1" y="128.4" class="cb">-1</text>
<text x="300.1" y="158.2" class="cb">-1.5</text>
<text x="300.1" y="187.9" class="cb">-2</text>
<text x="300.1" y="217.7" class="cb">-2.5</text>
<path d="M296.80,6.20h-2.5M296.80,35.97h-2.5M296.80,65.74h-2.5M296.80,95.51h-2.5M296.80,125.29h-2.5M296.80,155.06h-2.5M296.80,184.83h-2.5M296.80,214.60h-2.5" stroke="#333" stroke-width="0.8"/>
<rect x="639.8" y="6.2" width="12.1" height="208.4" fill="url(#cbg)" stroke="#333" stroke-width="0.9"/>
<text x="655.2" y="9.3" class="cb">1</text>
<text x="655.2" y="39.1" class="cb">0.5</text>
<text x="655.2" y="68.8" class="cb">0</text>
<text x="655.2" y="98.6" class="cb">-0.5</text>
<text x="655.2" y="128.4" class="cb">-1</text>
<text x="655.2" y="158.2" class="cb">-1.5</text>
<text x="655.2" y="187.9" class="cb">-2</text>
<text x="655.2" y="217.7" class="cb">-2.5</text>
<path d="M651.90,6.20h-2.5M651.90,35.97h-2.5M651.90,65.74h-2.5M651.90,95.51h-2.5M651.90,125.29h-2.5M651.90,155.06h-2.5M651.90,184.83h-2.5M651.90,214.60h-2.5" stroke="#333" stroke-width="0.8"/>

<g transform="translate(133.6,239.1)" font-size="11.6"><text x="0" y="0" font-style="italic">m</text><text x="8.4" y="2.3" font-style="italic" font-size="8.6">χ</text><path d="M14.3,2.9L17.9,-8.8" stroke="#000" stroke-width="0.75" fill="none"/><text x="19.6" y="0" textLength="20.6" lengthAdjust="spacingAndGlyphs">GeV</text></g>
<g transform="translate(488.3,239.1)" font-size="11.6"><text x="0" y="0" font-style="italic">m</text><text x="8.4" y="2.3" font-style="italic" font-size="8.6">χ</text><path d="M14.3,2.9L17.9,-8.8" stroke="#000" stroke-width="0.75" fill="none"/><text x="19.6" y="0" textLength="20.6" lengthAdjust="spacingAndGlyphs">GeV</text></g>
<g transform="translate(9.4,130.6) rotate(-90)" font-size="11.6"><text x="0" y="0" font-style="italic">m</text><text x="8.4" y="2.3" font-style="italic" font-size="8.6">ϕ</text><path d="M14.3,2.9L17.9,-8.8" stroke="#000" stroke-width="0.75" fill="none"/><text x="19.6" y="0" textLength="20.6" lengthAdjust="spacingAndGlyphs">GeV</text></g>
<g transform="translate(363.4,131) rotate(-90)" font-size="11.6"><text x="0" y="0" font-style="italic">m</text><text x="8.4" y="2.3" font-style="italic" font-size="8.6">ϕ</text><path d="M14.3,2.9L17.9,-8.8" stroke="#000" stroke-width="0.75" fill="none"/><text x="19.6" y="0" textLength="20.6" lengthAdjust="spacingAndGlyphs">GeV</text></g>

<g font-size="12">
<text transform="translate(328.2,130.5) rotate(-90)" textLength="40" lengthAdjust="spacingAndGlyphs">log <tspan font-style="italic">g</tspan><tspan font-size="8.4" dy="2.2">max</tspan></text>
<text transform="translate(683.3,130.5) rotate(-90)" textLength="40" lengthAdjust="spacingAndGlyphs">log <tspan font-style="italic">g</tspan><tspan font-size="8.4" dy="2.2">max</tspan></text>
</g>
<path d="M416.8,123.4h3M418.3,121.9v3M431.6,148.9h3M433.1,147.4v3M445.1,107.2h3M446.6,105.7v3M460.4,137.4h3M461.9,135.9v3M490.8,107.6h3M492.3,106.1v3M524.9,109.2h3M526.4,107.7v3M131.0,99.6h3M132.5,98.1v3M134.9,69.8h3M136.4,68.3v3" stroke="#000" stroke-width="0.7" fill="none"/>
<g class="cl" text-anchor="middle">
<text x="179.3" y="60.3">0.5</text>
<text x="143.7" y="67.1">0.25</text>
<text x="175.7" y="89.3">0</text>
<text x="140.8" y="97.3">-0.25</text>
<text x="136" y="111.3">-0.5</text>
<text x="135.8" y="141">-0.75</text>
<text x="177.5" y="149.5">-1</text>
<text x="142.7" y="156">-1.25</text>
<text x="180.6" y="178.5">-1.5</text>
<text x="122.9" y="185.6">-1.75</text>

<text x="401" y="152.8">-1.25</text>
<text x="423.8" y="125">-1</text>
<text x="443.8" y="149.5">-0.75</text>
<text x="454.2" y="108.2">-0.5</text>
<text x="472.3" y="138">-0.25</text>
<text x="482.3" y="83.2">0</text>
<text x="499" y="108.2">0.25</text>
<text x="514.8" y="72.6">0.5</text>
<text x="536" y="109.6">0.75</text>
</g>
<g class="mg">
<text x="160.4" y="117" textLength="34.7" lengthAdjust="spacingAndGlyphs">IceCube</text>
<text x="157.8" y="130.3" textLength="43.6" lengthAdjust="spacingAndGlyphs">Cosmology</text>
<text x="449.8" y="16.8" textLength="45.5" lengthAdjust="spacingAndGlyphs">Cosmology</text>
<text x="509.3" y="16.8" textLength="34.2" lengthAdjust="spacingAndGlyphs">IceCube</text>
</g>
<g stroke="#cc00cc" stroke-width="0.75" fill="none" stroke-linecap="round" stroke-linejoin="round">
<path d="M158.3,110.3V118.2M156.5,112.8Q157.8,111.6 158.3,110.1Q158.8,111.6 160.1,112.8"/>
<path d="M154.5,123.4V131.8M152.7,129.3Q154,130.5 154.5,132Q155,130.5 156.3,129.3"/>
<path d="M440.3,13.6H448.6M442.8,11.7Q441.6,13.1 440.1,13.6Q441.6,14.1 442.8,15.5"/>
<path d="M547.2,13.6H555.8M553.3,11.7Q554.5,13.1 556,13.6Q554.5,14.1 553.3,15.5"/>
</g>

</svg>
</body></html>
